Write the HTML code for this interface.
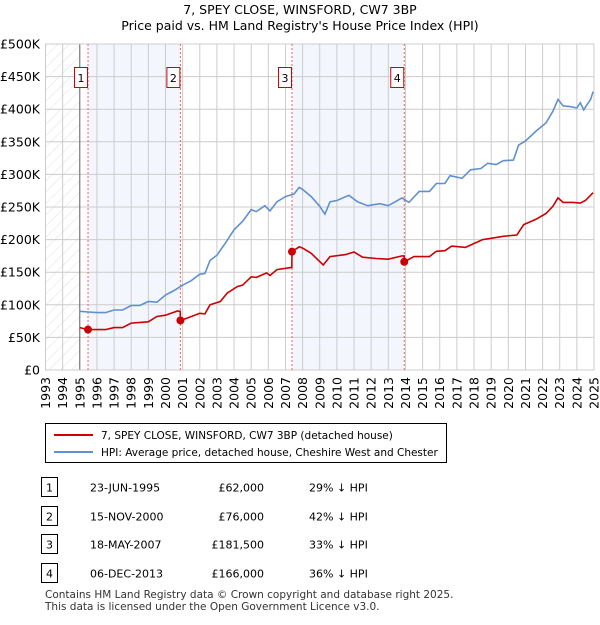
<!DOCTYPE html>
<html><head><meta charset="utf-8"><style>
body{margin:0;background:#fff;font-family:"Liberation Sans","DejaVu Sans",sans-serif;}
svg text{font-family:"DejaVu Sans","Liberation Sans",sans-serif;}
</style></head><body>
<svg id="c" width="600" height="620" xmlns="http://www.w3.org/2000/svg">
<text x="300" y="14" text-anchor="middle" font-size="12.5">7, SPEY CLOSE, WINSFORD, CW7 3BP</text>
<text x="300" y="30" text-anchor="middle" font-size="12.5">Price paid vs. HM Land Registry's House Price Index (HPI)</text>
<defs><pattern id="h" width="8" height="8" patternUnits="userSpaceOnUse" patternTransform="rotate(45)"><line x1="0" y1="0" x2="0" y2="8" stroke="#d8d8d8" stroke-width="0.8"/></pattern></defs>
<g id="plot"></g>
<g id="legend">
<rect x="45.5" y="423.5" width="401" height="39" fill="#fff" stroke="#000"/>
<line x1="54" y1="435" x2="93" y2="435" stroke="#cc0000" stroke-width="2"/>
<text x="101" y="439" font-size="10.5">7, SPEY CLOSE, WINSFORD, CW7 3BP (detached house)</text>
<line x1="54" y1="452" x2="93" y2="452" stroke="#6090d0" stroke-width="2"/>
<text x="101" y="456" font-size="10.5">HPI: Average price, detached house, Cheshire West and Chester</text>
</g>
<g id="table" font-size="11"></g>
<text x="45" y="598" font-size="10.5" fill="#333">Contains HM Land Registry data © Crown copyright and database right 2025.</text>
<text x="45" y="610" font-size="10.5" fill="#333">This data is licensed under the Open Government Licence v3.0.</text>
</svg>
<script>
const yTicks=[0,50,100,150,200,250,300,350,400,450,500];
const yTickLabels=["£0","£50K","£100K","£150K","£200K","£250K","£300K","£350K","£400K","£450K","£500K"];
const years=[1993,1994,1995,1996,1997,1998,1999,2000,2001,2002,2003,2004,2005,2006,2007,2008,2009,2010,2011,2012,2013,2014,2015,2016,2017,2018,2019,2020,2021,2022,2023,2024,2025];
const saleNums=["1","2","3","4"];
const saleYears=[1995.48,2000.87,2007.38,2013.93];
const salePrices=[62,76,181.5,166];
const saleDates=["23-JUN-1995","15-NOV-2000","18-MAY-2007","06-DEC-2013"];
const salePriceLabels=["£62,000","£76,000","£181,500","£166,000"];
const saleHpiLabels=["29% ↓ HPI","42% ↓ HPI","33% ↓ HPI","36% ↓ HPI"];
const hpiT=[1995,1995.5,1996,1996.5,1997,1997.5,1998,1998.5,1999,1999.5,2000,2000.5,2001,2001.5,2002,2002.3,2002.6,2003,2003.5,2004,2004.5,2005,2005.3,2005.8,2006.1,2006.5,2007,2007.5,2007.8,2008,2008.5,2009,2009.3,2009.6,2010,2010.7,2011.2,2011.8,2012.5,2013,2013.8,2014.2,2014.8,2015.4,2015.8,2016.3,2016.6,2017.3,2017.8,2018.4,2018.8,2019.3,2019.7,2020.3,2020.6,2021,2021.6,2022.2,2022.6,2022.9,2023.2,2023.6,2024,2024.2,2024.4,2024.6,2024.8,2024.95];
const hpiV=[90,89,88,88,92,92,99,99,105,104,115,122,130,137,147,148,168,176,195,215,228,246,243,252,244,258,266,270,280,277,266,251,239,258,260,268,258,252,255,252,264,257,274,274,286,286,298,294,307,309,317,315,321,322,345,351,366,379,397,415,405,404,402,410,399,407,415,427];
const priceT=[1995,1995.48,1996,1996.5,1997,1997.5,1998,1999,1999.5,2000,2000.7,2000.86,2000.87,2001.2,2002,2002.3,2002.6,2003.2,2003.6,2004.2,2004.5,2005,2005.3,2005.9,2006.1,2006.5,2007.3,2007.37,2007.38,2007.8,2008,2008.5,2009.2,2009.6,2010.5,2011,2011.5,2012.3,2013,2013.8,2013.92,2013.93,2014.5,2015.4,2015.8,2016.3,2016.7,2017.5,2018,2018.5,2019,2019.7,2020.5,2020.9,2021.6,2022.2,2022.6,2022.9,2023.2,2023.8,2024.2,2024.5,2024.95];
const priceV=[65,62,62,62,65,65,72,74,82,84,90.5,90,76,79,87,86,100,105,118,128,130,143,142,149,145,154,157,157,181.5,189,187,179,161,174,177,181,173,171,170,175,175,166,174,174,182,183,190,188,194,200,202,205,207,223,231,240,251,264,257,257,256,260,272];
const X0=45.5,X1=594,Y0=370,Y1=44;
const x=t=>X0+(t-1993)/32*(X1-X0);
const y=v=>Y0-v/500*(Y0-Y1);
const NS="http://www.w3.org/2000/svg";
function mk(tag,attrs,parent,text){const e=document.createElementNS(NS,tag);for(const k in attrs)e.setAttribute(k,attrs[k]);if(text!==undefined)e.textContent=text;parent.appendChild(e);return e;}
const p=document.getElementById('plot');
let e;
e=mk('rect',{x:X0,y:Y1,width:x(1995)-X0,height:Y0-Y1,fill:'url(#h)'},p);


[[0,1],[2,3]].forEach(([a,b],i)=>{const r=mk('rect',{x:x(saleYears[a]),y:Y1,width:x(saleYears[b])-x(saleYears[a]),height:Y0-Y1,fill:'#f3f6fd'},p);

});
yTicks.forEach((v,i)=>{const l=mk('line',{x1:X0,x2:X1,y1:y(v),y2:y(v),stroke:'#ccc'},p);


const t=mk('text',{x:40,y:y(v)+4.5,'text-anchor':'end','font-size':12.5},p,yTickLabels[i]);

});
years.forEach(yr=>{const l=mk('line',{x1:x(yr),x2:x(yr),y1:Y1,y2:Y0,stroke:'#ccc'},p);


const t=mk('text',{transform:`translate(${x(yr)+4.5},377) rotate(-90)`,'text-anchor':'end','font-size':12.5},p,String(yr));

});
e=mk('line',{x1:x(1995),x2:x(1995),y1:Y1,y2:Y0,stroke:'#666'},p);


e=mk('rect',{x:X0,y:Y1,width:X1-X0,height:Y0-Y1,fill:'none',stroke:'#ccc'},p);


saleYears.forEach((s,i)=>{const l=mk('line',{x1:x(s),x2:x(s),y1:Y1,y2:Y0,stroke:'#f06060','stroke-dasharray':'2,2'},p);


const g=mk('g',{},p);


mk('rect',{x:x(s)-13.5,y:67.5,width:13,height:20,fill:'#fff',stroke:'#cc0000'},g);
mk('text',{x:x(s)-7,y:82,'text-anchor':'middle','font-size':11},g,saleNums[i]);});
const path=(T,V)=>T.map((t,i)=>(i?'L':'M')+x(t).toFixed(1)+','+y(V[i]).toFixed(1)).join('');
e=mk('path',{d:path(hpiT,hpiV),fill:'none',stroke:'#6090d0','stroke-width':1.6},p);


e=mk('path',{d:path(priceT,priceV),fill:'none',stroke:'#cc0000','stroke-width':1.6},p);


saleYears.forEach((s,i)=>{const c=mk('circle',{cx:x(s),cy:y(salePrices[i]),r:4,fill:'#cc0000'},p);

});
const tb=document.getElementById('table');
const rowY=[488,517,545,574];
saleNums.forEach((n,i)=>{const g=mk('g',{},tb);


mk('rect',{x:41.5,y:rowY[i]-10.5,width:16,height:19,fill:'#fff',stroke:'#000'},g);
mk('text',{x:49.5,y:rowY[i]+3.5,'text-anchor':'middle'},g,n);
mk('text',{x:90,y:rowY[i]+3.5},g,saleDates[i]);
mk('text',{x:264,y:rowY[i]+3.5,'text-anchor':'end'},g,salePriceLabels[i]);
mk('text',{x:309,y:rowY[i]+3.5},g,saleHpiLabels[i]);});
</script>
</body></html>
